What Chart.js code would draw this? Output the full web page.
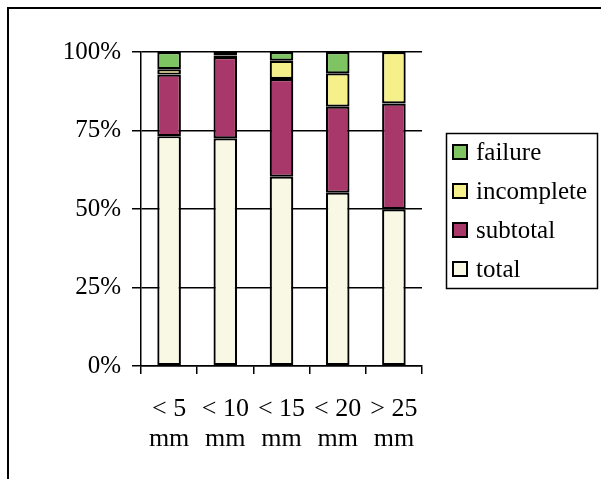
<!DOCTYPE html>
<html>
<head>
<meta charset="utf-8">
<script src="https://cdn.jsdelivr.net/npm/chart.js@4.4.1/dist/chart.umd.min.js"></script>
<style>
    body { margin: 0; background: #fff; overflow: hidden; }
    #wrap { position: relative; width: 601px; height: 479px; }
    #frame {
        position: absolute; left: 7px; top: 7px; width: 700px; height: 600px;
        border-left: 2px solid #000; border-top: 2px solid #000;
    }
    #chart { position: absolute; left: 0; top: 0; }
</style>
</head>
<body>
<div id="wrap">
    <div id="frame"></div>
    <canvas id="chart" width="601" height="479"></canvas>
</div>
<script>
// ==========================================
// DATA
// ==========================================
const categories = [['< 5', 'mm'], ['< 10', 'mm'], ['< 15', 'mm'], ['< 20', 'mm'], ['> 25', 'mm']];

const total      = [73.2, 72.5, 60.3, 55.2, 49.9];
const subtotal   = [19.6, 25.9, 31.1, 27.4, 33.7];
const incomplete = [1.7, 0.5, 5.8, 10.6, 16.4];
const failure    = [5.5, 1.1, 2.8, 6.8, 0];

const yTicks = [0, 25, 50, 75, 100];

// bottom of stack first
const seriesNames  = ['total', 'subtotal', 'incomplete', 'failure'];
const seriesData   = [total, subtotal, incomplete, failure];
const seriesColors = ['#F8F8E4', '#A8386A', '#F6F08A', '#7EC462'];

const serif = '"Liberation Serif", "Times New Roman", serif';

const datasets = seriesNames.map((name, i) => ({
    label: name,
    data: seriesData[i],
    backgroundColor: seriesColors[i],
    borderColor: '#000',
    borderWidth: 2.2,
    borderSkipped: false,
    categoryPercentage: 1,
    barPercentage: 0.42
}));

// boxed legend on the right, top of the stack listed first
const boxedLegend = {
    id: 'boxedLegend',
    afterDraw(chart) {
        const ctx = chart.ctx;
        const sets = chart.data.datasets;
        ctx.save();
        ctx.strokeStyle = '#000';
        ctx.lineWidth = 1.5;
        ctx.strokeRect(446.5, 133.5, 151, 155);
        ctx.font = '25px ' + serif;
        ctx.textBaseline = 'middle';
        for (let row = 0; row < sets.length; row++) {
            const ds = sets[sets.length - 1 - row];
            const cy = 152 + row * 39;
            ctx.fillStyle = ds.backgroundColor;
            ctx.fillRect(453, cy - 7, 14, 14);
            ctx.lineWidth = 2;
            ctx.strokeRect(453, cy - 7, 14, 14);
            ctx.fillStyle = '#000';
            ctx.fillText(ds.label, 476, cy + 1);
        }
        ctx.restore();
    }
};

new Chart(document.getElementById('chart'), {
    type: 'bar',
    data: { labels: categories, datasets: datasets },
    options: {
        responsive: false,
        animation: false,
        layout: { padding: { left: 0, top: 52, right: 179, bottom: 0 } },
        plugins: { legend: { display: false }, tooltip: { enabled: false } },
        scales: {
            x: {
                stacked: true,
                afterFit: s => { s.height = 113; },
                grid: { drawOnChartArea: false, color: '#000', lineWidth: 1.5, tickLength: 8 },
                border: { color: '#000', width: 1.5 },
                ticks: {
                    color: '#000', padding: 20, maxRotation: 0,
                    font: { family: serif, size: 26, lineHeight: 1.15 }
                }
            },
            y: {
                stacked: true,
                min: 0, max: 100,
                afterFit: s => { s.width = 141; },
                afterBuildTicks: s => { s.ticks = yTicks.map(v => ({ value: v })); },
                grid: { color: '#000', lineWidth: 1.5, tickLength: 9 },
                border: { color: '#000', width: 1.5 },
                ticks: {
                    color: '#000', padding: 11,
                    font: { family: serif, size: 25 },
                    callback: v => v + '%'
                }
            }
        }
    },
    plugins: [boxedLegend]
});
</script>
</body>
</html>
